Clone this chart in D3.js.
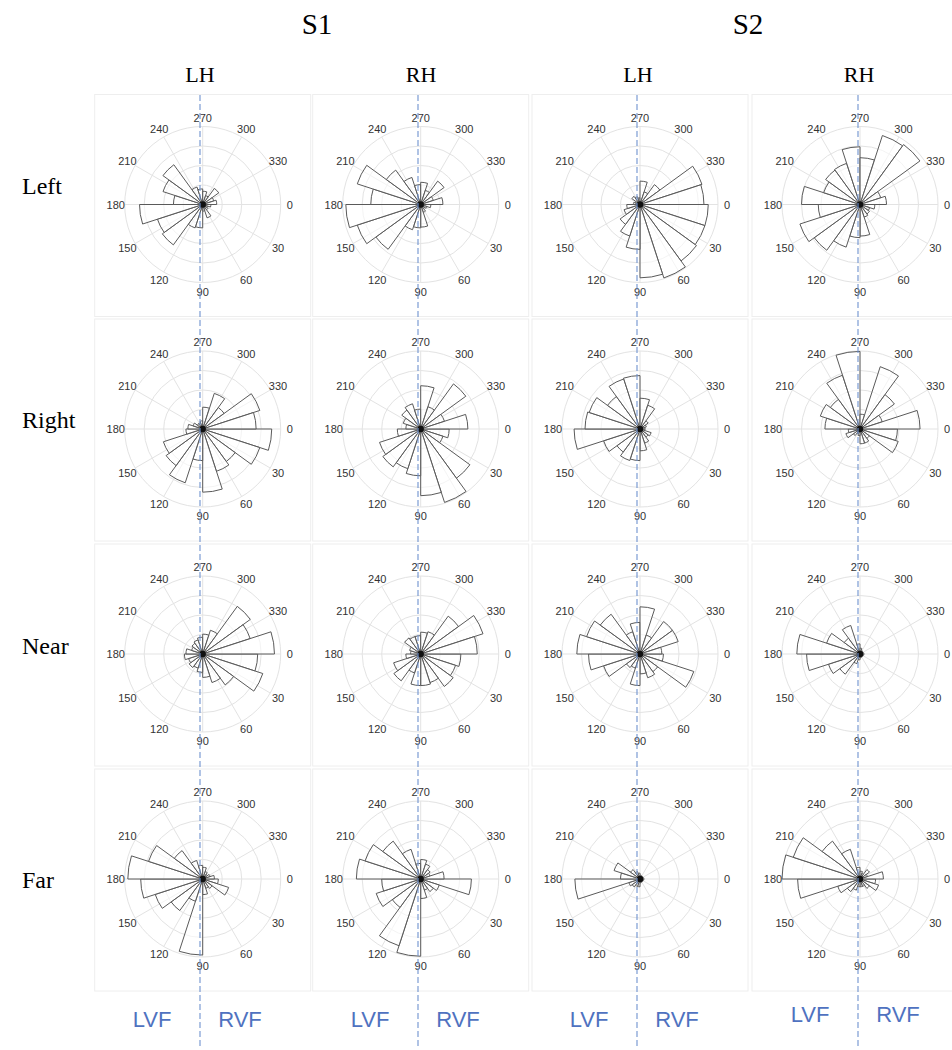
<!DOCTYPE html>
<html>
<head>
<meta charset="utf-8">
<script src="https://cdn.jsdelivr.net/npm/d3@7"></script>
<style>
  html, body { margin: 0; padding: 0; background: #fff; }
  svg { display: block; }
</style>
</head>
<body>
<svg id="chart" width="952" height="1050"></svg>
<script>
// Angular bins: 20 bins of 18 degrees, angles measured clockwise from the right
const binStarts = [0, 18, 36, 54, 72, 90, 108, 126, 144, 162, 180, 198, 216, 234, 252, 270, 288, 306, 324, 342];
const binWidth = 18;
const thetaTicks = [0, 30, 60, 90, 120, 150, 180, 210, 240, 270, 300, 330];
const radialTicks = [5, 10, 15, 20];
const radialMax = 20;

const subjects = ["S1", "S2"];
const hemispheres = ["LH", "RH"];
const conditions = ["Left", "Right", "Near", "Far"];
const fieldLabels = ["LVF", "RVF"];

// Bin counts per panel (one value per 18-degree bin, starting at 0 deg)
const s1LhLeft  = [2.1, 1.3, 1.7, 3.6, 1.7, 6.0, 6.3, 12.8, 12.2, 16.2, 7.5, 10.7, 12.6, 4.7, 4.0, 3.4, 2.4, 5.1, 3.0, 3.6];
const s1RhLeft  = [2.6, 1.7, 1.3, 2.1, 5.8, 6.0, 6.8, 14.2, 17.1, 19.2, 12.8, 17.1, 10.9, 7.3, 5.1, 5.7, 3.8, 7.4, 3.4, 5.7];
const s2LhLeft  = [17.5, 17.5, 17.9, 19.8, 18.8, 11.5, 8.5, 6.3, 4.3, 3.4, 1.7, 1.3, 2.6, 2.1, 1.7, 6.0, 3.4, 6.3, 16.7, 16.4];
const s2RhLeft  = [3.8, 2.6, 3.0, 3.4, 8.1, 8.5, 11.5, 14.5, 16.2, 10.7, 15.0, 9.8, 10.9, 11.1, 14.8, 12.0, 18.6, 19.0, 5.6, 6.8];

const s1LhRight = [17.7, 15.4, 10.3, 11.4, 16.2, 8.1, 14.5, 11.6, 10.6, 4.3, 3.8, 2.6, 1.7, 1.7, 2.1, 5.6, 9.6, 6.8, 15.4, 13.7];
const s1RhRight = [7.3, 6.0, 15.6, 19.8, 17.1, 12.0, 10.7, 12.0, 11.1, 6.0, 3.8, 4.7, 6.0, 6.8, 5.1, 11.1, 6.0, 14.3, 6.4, 12.1];
const s2LhRight = [1.3, 3.0, 2.6, 3.8, 5.6, 8.1, 8.5, 7.3, 9.8, 16.9, 14.1, 13.7, 10.3, 13.5, 13.7, 7.9, 6.4, 2.6, 1.7, 1.3];
const s2RhRight = [9.6, 10.3, 3.0, 3.8, 3.8, 1.7, 1.3, 2.1, 3.8, 3.0, 9.0, 10.7, 9.4, 14.5, 19.9, 3.8, 16.8, 10.9, 6.0, 15.4];

const s1LhNear  = [14.1, 16.2, 9.8, 7.7, 6.0, 4.7, 3.8, 4.3, 3.8, 4.7, 4.3, 3.0, 3.4, 3.8, 4.3, 5.1, 6.4, 15.1, 12.8, 18.4];
const s1RhNear  = [10.3, 9.4, 10.3, 7.7, 8.1, 8.1, 5.1, 8.5, 7.3, 3.8, 2.6, 3.0, 5.1, 4.7, 4.7, 5.6, 6.0, 12.0, 16.8, 14.5];
const s2LhNear  = [6.0, 14.5, 5.6, 6.4, 5.1, 8.1, 3.8, 4.3, 9.8, 13.2, 16.2, 14.4, 12.6, 6.0, 8.1, 12.1, 5.1, 10.3, 10.3, 5.6];
const s2RhNear  = [1.0, 0.8, 0.8, 0.8, 1.0, 1.5, 2.6, 6.4, 8.5, 13.7, 16.2, 9.0, 5.0, 7.7, 2.6, 1.5, 1.0, 0.8, 0.8, 1.0];

const s1LhFar   = [4.0, 7.0, 3.0, 2.5, 4.0, 19.5, 6.0, 10.0, 12.8, 15.9, 19.2, 14.6, 9.0, 5.0, 3.5, 3.0, 2.0, 1.5, 2.0, 3.0];
const s1RhFar   = [13.0, 5.0, 4.0, 3.0, 5.0, 19.8, 18.0, 9.0, 12.0, 10.0, 16.5, 15.0, 12.0, 8.0, 4.0, 5.0, 4.0, 3.0, 2.5, 6.0];
const s2LhFar   = [1.0, 0.8, 0.8, 0.8, 1.0, 2.0, 2.0, 2.5, 3.0, 16.7, 5.0, 7.0, 3.0, 2.0, 1.5, 1.0, 0.8, 0.8, 0.8, 1.0];
const s2RhFar   = [4.0, 5.0, 3.0, 2.0, 2.0, 2.0, 3.0, 4.0, 6.0, 16.0, 20.0, 18.0, 12.0, 8.0, 3.0, 2.0, 1.5, 3.0, 2.0, 6.0];

// Panel grid: rows = conditions, columns = subject x hemisphere
const panelGrid = [
  [s1LhLeft,  s1RhLeft,  s2LhLeft,  s2RhLeft],
  [s1LhRight, s1RhRight, s2LhRight, s2RhRight],
  [s1LhNear,  s1RhNear,  s2LhNear,  s2RhNear],
  [s1LhFar,   s1RhFar,   s2LhFar,   s2RhFar]
];

const svg = d3.select("#chart");

// Layout
const colCenters = [202.7, 420.7, 640, 860];
const rowCenters = [204.5, 429, 654, 879];
const rowLabelY = [186, 420, 646, 880];
const midlineX = [200, 418, 637, 858];
const outerR = 78;
const labelR = 87;

const rScale = d3.scaleLinear().domain([0, radialMax]).range([0, outerR]);
const toRad = deg => deg * Math.PI / 180;
// d3.arc measures from 12 o'clock clockwise; data angles are clockwise from 3 o'clock
const arcAngle = deg => toRad(deg + 90);

const arc = d3.arc()
  .innerRadius(0)
  .outerRadius(d => rScale(d.value))
  .startAngle(d => arcAngle(d.start))
  .endAngle(d => arcAngle(d.start + binWidth));

// Faint panel frames
conditions.forEach((cond, ri) => {
  colCenters.forEach((cx, ci) => {
    svg.append("rect")
      .attr("x", cx - 108).attr("y", rowCenters[ri] - 110)
      .attr("width", 216).attr("height", 222)
      .attr("fill", "#fff")
      .attr("stroke", "#eeeeee")
      .attr("stroke-width", 1);
  });
});

// Polar panels
panelGrid.forEach((row, ri) => {
  row.forEach((values, ci) => {
    const g = svg.append("g")
      .attr("transform", `translate(${colCenters[ci]},${rowCenters[ri]})`);

    // Rings
    g.selectAll("circle.ring")
      .data(radialTicks)
      .join("circle")
      .attr("class", "ring")
      .attr("r", d => rScale(d))
      .attr("fill", "none")
      .attr("stroke", "#e3e3e3")
      .attr("stroke-width", 1);

    // Spokes
    g.selectAll("line.spoke")
      .data(thetaTicks)
      .join("line")
      .attr("class", "spoke")
      .attr("x1", 0).attr("y1", 0)
      .attr("x2", d => outerR * Math.cos(toRad(d)))
      .attr("y2", d => outerR * Math.sin(toRad(d)))
      .attr("stroke", "#e3e3e3")
      .attr("stroke-width", 1);

    // Angle labels
    g.selectAll("text.theta")
      .data(thetaTicks)
      .join("text")
      .attr("class", "theta")
      .attr("x", d => labelR * Math.cos(toRad(d)))
      .attr("y", d => labelR * Math.sin(toRad(d)))
      .attr("text-anchor", "middle")
      .attr("dominant-baseline", "central")
      .attr("font-family", "'Liberation Sans', Arial, sans-serif")
      .attr("font-size", 11)
      .attr("fill", "#333")
      .text(d => d);

    // Histogram bars
    const bins = binStarts.map((s, i) => ({ start: s, value: values[i] }));
    g.selectAll("path.bar")
      .data(bins)
      .join("path")
      .attr("class", "bar")
      .attr("d", arc)
      .attr("fill", "#fff")
      .attr("fill-opacity", 0.6)
      .attr("stroke", "#5a5a5a")
      .attr("stroke-width", 1)
      .attr("stroke-linejoin", "miter");

    // Dense hub where all bar edges meet
    g.append("circle")
      .attr("r", 3.2)
      .attr("fill", "#111");
  });
});

// Vertical meridian lines
svg.selectAll("line.midline")
  .data(midlineX)
  .join("line")
  .attr("class", "midline")
  .attr("x1", d => d).attr("x2", d => d)
  .attr("y1", 95).attr("y2", 1048)
  .attr("stroke", "#6f93cf")
  .attr("stroke-width", 1.1)
  .attr("stroke-dasharray", "6,3");

// Subject titles
const serif = "'Liberation Serif', 'Times New Roman', serif";
svg.selectAll("text.subject")
  .data(subjects)
  .join("text")
  .attr("class", "subject")
  .attr("x", (d, i) => [317, 748][i])
  .attr("y", 34)
  .attr("text-anchor", "middle")
  .attr("font-family", serif)
  .attr("font-size", 29)
  .attr("fill", "#000")
  .text(d => d);

// Hemisphere titles
const hemiCols = [hemispheres[0], hemispheres[1], hemispheres[0], hemispheres[1]];
svg.selectAll("text.hemi")
  .data(hemiCols)
  .join("text")
  .attr("class", "hemi")
  .attr("x", (d, i) => [200, 421, 638, 859][i])
  .attr("y", 82)
  .attr("text-anchor", "middle")
  .attr("font-family", serif)
  .attr("font-size", 22)
  .attr("fill", "#000")
  .text(d => d);

// Condition labels
svg.selectAll("text.cond")
  .data(conditions)
  .join("text")
  .attr("class", "cond")
  .attr("x", 22)
  .attr("y", (d, i) => rowLabelY[i])
  .attr("dominant-baseline", "central")
  .attr("font-family", serif)
  .attr("font-size", 24)
  .attr("fill", "#000")
  .text(d => d);

// Visual field labels under each column
const vfPositions = [];
midlineX.forEach((mx, ci) => {
  vfPositions.push({ text: fieldLabels[0], x: mx - 48, y: ci === 3 ? 1022 : 1027 });
  vfPositions.push({ text: fieldLabels[1], x: mx + 40, y: ci === 3 ? 1022 : 1027 });
});
svg.selectAll("text.vf")
  .data(vfPositions)
  .join("text")
  .attr("class", "vf")
  .attr("x", d => d.x)
  .attr("y", d => d.y)
  .attr("text-anchor", "middle")
  .attr("font-family", "'Liberation Sans', Arial, sans-serif")
  .attr("font-size", 22)
  .attr("fill", "#4f72c0")
  .text(d => d.text);
</script>
</body>
</html>
